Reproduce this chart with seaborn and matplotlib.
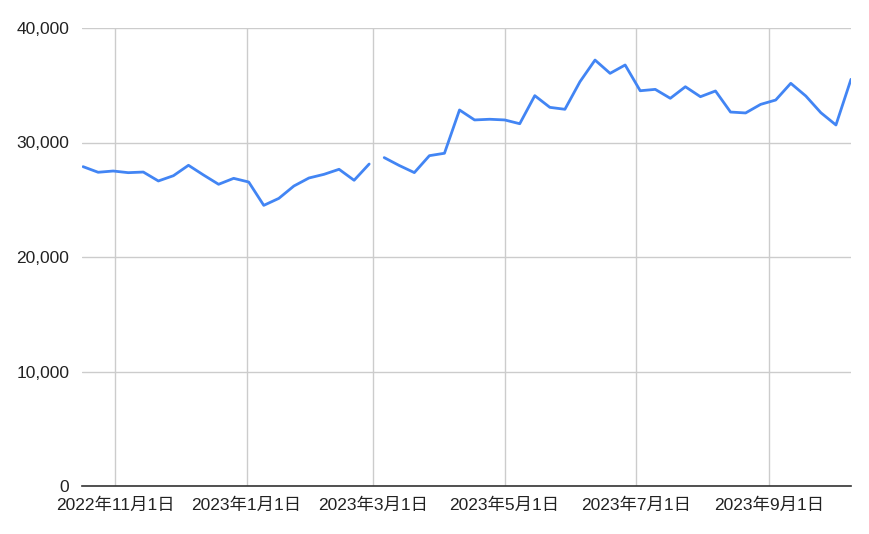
import matplotlib
matplotlib.use("Agg")
import matplotlib.pyplot as plt
import matplotlib.ticker as mticker
import seaborn as sns
import pandas as pd

# --- data -------------------------------------------------------------
seg1_start = "2022-10-17"
seg1_values = [27890, 27400, 27510, 27365, 27420, 26640, 27100, 28010, 27160, 26350,
               26870, 26550, 24510, 25120, 26200, 26900, 27220, 27660, 26700, 28120]
seg2_start = "2023-03-06"
seg2_values = [28680, 27990, 27370, 28850, 29060, 32840, 31970, 32030, 31970, 31640,
               34090, 33070, 32900, 35310, 37200, 36040, 36770, 34520, 34640, 33860,
               34870, 34000, 34500, 32660, 32580, 33330, 33710, 35170, 34060, 32600,
               31530, 35520]
x_ticks = ["2022-11-01", "2023-01-01", "2023-03-01", "2023-05-01", "2023-07-01", "2023-09-01"]
x_tick_labels = ["2022年11月1日", "2023年1月1日", "2023年3月1日", "2023年5月1日", "2023年7月1日", "2023年9月1日"]
y_ticks = [0, 10000, 20000, 30000, 40000]

df = pd.concat([
    pd.DataFrame({"date": pd.date_range(seg1_start, periods=len(seg1_values), freq="7D"),
                  "value": seg1_values, "seg": 0}),
    pd.DataFrame({"date": pd.date_range(seg2_start, periods=len(seg2_values), freq="7D"),
                  "value": seg2_values, "seg": 1}),
], ignore_index=True)

# --- plot -------------------------------------------------------------
sns.set_style("white")
plt.rcParams["font.family"] = ["Liberation Sans", "Noto Sans CJK JP", "DejaVu Sans"]

fig = plt.figure(figsize=(8.7, 5.34), dpi=100)
ax = fig.add_axes([82 / 870, 1 - 486 / 534, (851 - 82) / 870, (486 - 28) / 534])

sns.lineplot(data=df, x="date", y="value", units="seg", estimator=None,
             color="#4285F4", linewidth=2.0, ax=ax, zorder=3)

ax.set_xlim(pd.Timestamp("2022-10-16 12:00"), df["date"].max())
ax.set_ylim(0, 40000)
ax.set_yticks(y_ticks)
ax.yaxis.set_major_formatter(mticker.FuncFormatter(lambda v, p: f"{int(v):,}"))
ax.set_xticks(pd.to_datetime(x_ticks))
ax.set_xticklabels(x_tick_labels)

ax.grid(True, color="#cccccc", linewidth=1.0, zorder=0)
ax.set_axisbelow(True)
for s in ["top", "right", "left"]:
    ax.spines[s].set_visible(False)
ax.spines["bottom"].set_color("#333333")
ax.spines["bottom"].set_linewidth(1.2)
ax.spines["bottom"].set_zorder(2)

ax.tick_params(axis="both", length=0, labelsize=12.5, colors="#222222")
ax.tick_params(axis="y", pad=9)
ax.tick_params(axis="x", pad=8)
ax.set_xlabel("")
ax.set_ylabel("")

fig.savefig("out.png", dpi=100)
